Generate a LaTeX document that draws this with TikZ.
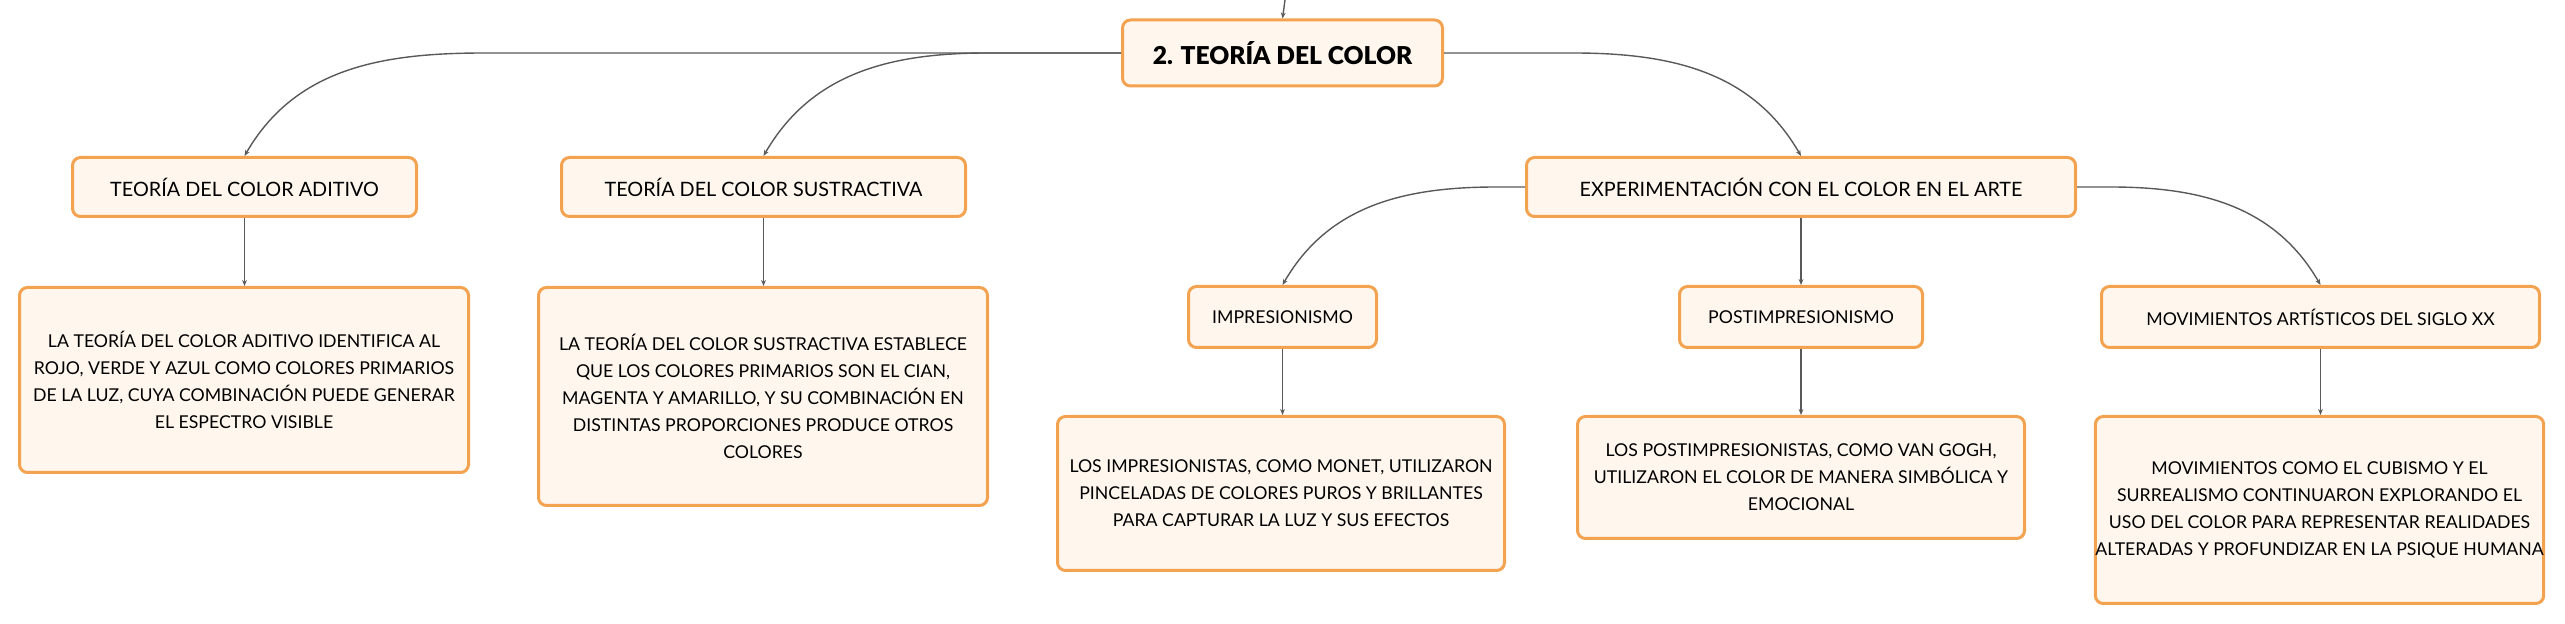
\documentclass[tikz,border=0pt]{standalone}
\usepackage{fontspec}
\setmainfont{Lato}
\newfontfamily\rootfont{Lato Black}
\usetikzlibrary{arrows.meta,calc}
\definecolor{boxline}{HTML}{F3A24F}
\definecolor{boxfill}{HTML}{FFF6EE}
\definecolor{linkgray}{HTML}{595959}

\begin{document}
\begin{tikzpicture}[x=0.5pt,y=0.5pt,
    box/.style={draw=boxline,fill=boxfill,line width=1.5pt,rounded corners=4pt,align=center,inner sep=0pt},
    head/.style={box,font=\fontsize{9.9}{12}\selectfont,minimum height=29.5pt},
    sub/.style={box,font=\fontsize{8.85}{12}\selectfont,minimum height=30.5pt},
    txt/.style={box,font=\fontsize{8.85}{13.5}\selectfont},
    link/.style={draw=linkgray,line width=0.7pt,-{Stealth[length=3pt,width=2.4pt]}}]
  \useasboundingbox (0,0) rectangle (2565,-624);
  % main topic
  \node[box,font=\fontsize{12.3}{14}\selectfont\rootfont,minimum width=160pt,minimum height=33pt] (root) at (1282.5,-53) {2. TEORÍA DEL COLOR};
  \coordinate (top) at (1285,0);
  % first level
  \node[head,minimum width=172pt] (aditivo) at (244.5,-187) {TEORÍA DEL COLOR ADITIVO};
  \node[head,minimum width=202pt] (sustractiva) at (763.5,-187) {TEORÍA DEL COLOR SUSTRACTIVA};
  \node[head,minimum width=274.5pt] (arte) at (1801,-187) {EXPERIMENTACIÓN CON EL COLOR EN EL ARTE};
  % second level
  \node[sub,minimum width=94pt] (impres) at (1282.5,-317) {IMPRESIONISMO};
  \node[sub,minimum width=121.5pt] (postimp) at (1801,-317) {POSTIMPRESIONISMO};
  \node[sub,minimum width=219pt] (movim) at (2320.5,-317) {MOVIMIENTOS ARTÍSTICOS DEL SIGLO XX};
  % descriptions
  \node[txt,minimum width=224.5pt,minimum height=92.5pt] (aditivo-t) at (244,-380) {LA TEORÍA DEL COLOR ADITIVO IDENTIFICA AL\\ROJO, VERDE Y AZUL COMO COLORES PRIMARIOS\\DE LA LUZ, CUYA COMBINACIÓN PUEDE GENERAR\\EL ESPECTRO VISIBLE};
  \node[txt,minimum width=224.5pt,minimum height=109pt] (sustractiva-t) at (763,-396.5) {LA TEORÍA DEL COLOR SUSTRACTIVA ESTABLECE\\QUE LOS COLORES PRIMARIOS SON EL CIAN,\\MAGENTA Y AMARILLO, Y SU COMBINACIÓN EN\\DISTINTAS PROPORCIONES PRODUCE OTROS\\COLORES};
  \node[txt,minimum width=223.5pt,minimum height=77pt] (impres-t) at (1281,-493.5) {LOS IMPRESIONISTAS, COMO MONET, UTILIZARON\\PINCELADAS DE COLORES PUROS Y BRILLANTES\\PARA CAPTURAR LA LUZ Y SUS EFECTOS};
  \node[txt,minimum width=223.5pt,minimum height=61pt] (postimp-t) at (1801,-477.5) {LOS POSTIMPRESIONISTAS, COMO VAN GOGH,\\UTILIZARON EL COLOR DE MANERA SIMBÓLICA Y\\EMOCIONAL};
  \node[txt,minimum width=223pt,minimum height=93.5pt] (movim-t) at (2319.5,-510) {MOVIMIENTOS COMO EL CUBISMO Y EL\\SURREALISMO CONTINUARON EXPLORANDO EL\\USO DEL COLOR PARA REPRESENTAR REALIDADES\\ALTERADAS Y PROFUNDIZAR EN LA PSIQUE HUMANA};
  % connectors
  \draw[link] (top) -- (root.north);
  \draw[link] (root.west) -- ($(aditivo.north |- root.west)+(240,0)$) to[out=180,in=60] (aditivo.north);
  \draw[link] (root.west) -- ($(sustractiva.north |- root.west)+(224,0)$) to[out=180,in=60] (sustractiva.north);
  \draw[link] (root.east) -- ($(arte.north |- root.east)+(-228,0)$) to[out=0,in=120] (arte.north);
  \draw[link] (arte.west) -- ($(impres.north |- arte.west)+(214,0)$) to[out=180,in=60] (impres.north);
  \draw[link] (arte.south) -- (postimp.north);
  \draw[link] (arte.east) -- ($(movim.north |- arte.east)+(-210,0)$) to[out=0,in=120] (movim.north);
  \foreach \n in {aditivo,sustractiva,impres,postimp,movim}
    \draw[link] (\n.south) -- (\n.south |- \n-t.north);
\end{tikzpicture}
\end{document}
